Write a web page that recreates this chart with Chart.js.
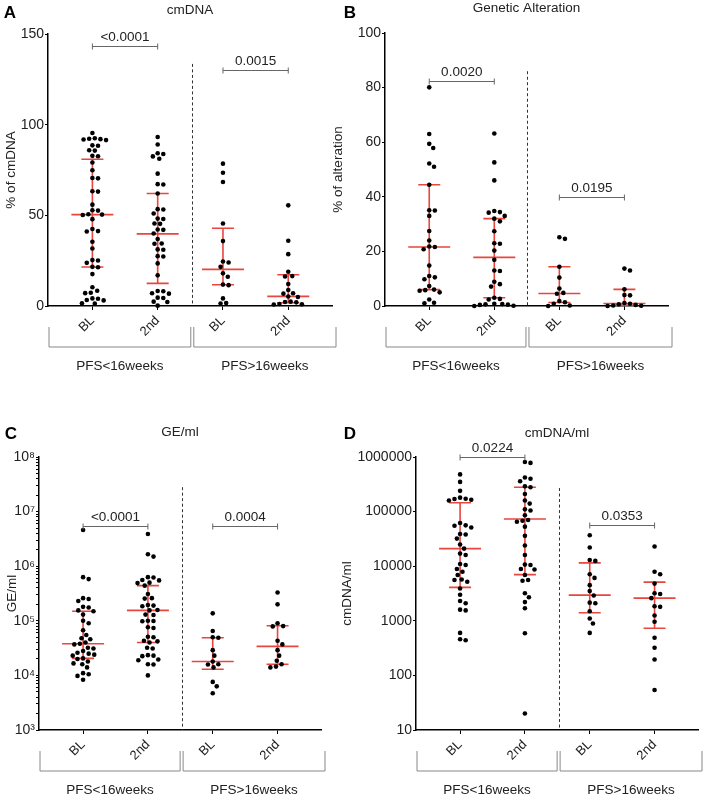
<!DOCTYPE html>
<html>
<head>
<meta charset="utf-8">
<script src="https://cdn.jsdelivr.net/npm/chart.js@4/dist/chart.umd.min.js"></script>
<style>
html, body { margin: 0; padding: 0; background: #fff; }
#wrap { position: relative; width: 706px; height: 797px; overflow: hidden; }
canvas { position: absolute; }
</style>
</head>
<body>
<div id="wrap">
  <canvas id="panelA"></canvas>
  <canvas id="panelB"></canvas>
  <canvas id="panelC"></canvas>
  <canvas id="panelD"></canvas>
</div>
<script>
// categories
const groups = ['BL', '2nd', 'BL', '2nd'];
const cohorts = ['PFS<16weeks', 'PFS>16weeks'];

// A - cmDNA (%)
const cmdnaPct = [
    [95.4, 92.5, 92.2, 92.0, 91.8, 91.5, 88.6, 88.4, 85.9, 85.7, 82.8, 82.6, 79.1, 74.9, 70.6, 70.4, 63.3, 63.1, 55.9, 52.8, 52.6, 50.6, 50.4, 50.2, 47.9, 42.5, 41.3, 41.1, 35.4, 31.7, 25.3, 25.1, 23.8, 21.6, 21.4, 17.6, 10.3, 8.4, 7.3, 7.1, 4.2, 4.0, 3.3, 3.1, 1.5, 1.3],
    [93.2, 89.1, 84.2, 83.8, 82.5, 81.2, 73.0, 67.2, 67.0, 62.0, 53.4, 53.2, 51.0, 48.2, 48.0, 45.5, 45.3, 42.2, 42.0, 40.0, 36.9, 34.5, 34.3, 31.2, 31.0, 27.5, 27.3, 23.5, 16.9, 8.3, 8.1, 7.0, 6.8, 4.6, 4.4, 2.4, 2.2, 0.2],
    [78.5, 73.5, 68.4, 45.5, 35.8, 24.5, 24.0, 21.6, 18.0, 16.1, 11.8, 11.5, 4.2, 1.6, 1.4],
    [55.5, 36.0, 28.6, 18.9, 16.5, 16.3, 12.1, 8.8, 7.0, 6.8, 5.2, 5.0, 2.4, 2.2, 2.0, 1.1, 0.9, 0.8],
];
const cmdnaPctMedian = [50.4, 39.8, 20.2, 5.3];
const cmdnaPctQ1 = [21.5, 12.5, 11.7, 1.8];
const cmdnaPctQ3 = [80.9, 62.0, 42.9, 17.2];
const cmdnaPctP = ['<0.0001', '0.0015'];

// B - genetic alteration (%)
const alteration = [
    [80.1, 63.0, 59.4, 57.9, 52.2, 51.0, 44.4, 35.1, 35.0, 33.0, 27.5, 24.0, 21.8, 21.6, 20.8, 14.8, 11.0, 10.5, 9.8, 7.3, 6.0, 5.8, 5.6, 5.0, 2.4, 1.2, 1.0],
    [63.2, 52.6, 46.0, 34.8, 34.4, 34.2, 33.0, 32.0, 31.0, 27.4, 23.0, 22.8, 20.3, 16.9, 13.0, 12.8, 8.9, 8.0, 7.1, 3.0, 2.6, 2.4, 0.8, 0.7, 0.6, 0.5, 0.4, 0.1, 0.0],
    [25.2, 24.6, 14.4, 10.4, 6.4, 4.8, 4.5, 1.8, 1.4, 0.8, 0.2, 0.0],
    [13.7, 13.0, 6.1, 4.0, 3.9, 1.1, 0.8, 0.6, 0.4, 0.2, 0.1, 0.0],
];
const alterationMedian = [21.6, 17.8, 4.6, 0.9];
const alterationQ1 = [6.0, 3.0, 1.3, 0.3];
const alterationQ3 = [44.4, 32.0, 14.4, 6.1];
const alterationP = ['0.0020', '0.0195'];

// C - GE/ml
const geMl = [
    [4.6e6, 6.3e5, 5.8e5, 2.6e5, 2.5e5, 2.3e5, 1.8e5, 1.75e5, 1.55e5, 1.5e5, 1.3e5, 1.0e5, 9.0e4, 6.7e4, 5.5e4, 4.8e4, 4.6e4, 4.0e4, 3.8e4, 3.7e4, 3.2e4, 3.1e4, 2.8e4, 2.6e4, 2.5e4, 2.4e4, 2.3e4, 2.05e4, 2.0e4, 1.8e4, 1.66e4, 1.6e4, 1.4e4, 1.1e4, 1.05e4, 9.8e3, 8.3e3],
    [3.9e6, 1.66e6, 1.5e6, 6.3e5, 6.2e5, 5.6e5, 5.5e5, 5.0e5, 4.9e5, 4.4e5, 3.1e5, 2.6e5, 2.55e5, 1.95e5, 1.9e5, 1.85e5, 1.58e5, 1.55e5, 1.3e5, 1.28e5, 1.0e5, 9.9e4, 9.8e4, 7.6e4, 7.4e4, 5.1e4, 5.0e4, 4.3e4, 4.2e4, 4.0e4, 3.2e4, 3.1e4, 2.35e4, 2.3e4, 2.25e4, 1.95e4, 1.9e4, 1.6e4, 1.58e4, 1.0e4],
    [1.37e5, 6.5e4, 5.0e4, 4.9e4, 2.9e4, 2.3e4, 1.8e4, 1.6e4, 1.58e4, 1.4e4, 7.6e3, 6.3e3, 4.7e3],
    [3.3e5, 2.0e5, 9.0e4, 8.0e4, 7.9e4, 4.3e4, 3.7e4, 2.9e4, 2.3e4, 1.85e4, 1.6e4, 1.45e4, 1.4e4],
];
const geMlMedian = [3.8e4, 1.55e5, 1.8e4, 3.4e4];
const geMlQ1 = [2.05e4, 4.0e4, 1.3e4, 1.6e4];
const geMlQ3 = [1.5e5, 4.4e5, 4.9e4, 8.1e4];
const geMlP = ['<0.0001', '0.0004'];

// D - cmDNA/ml
const cmdnaMl = [
    [4.8e5, 3.5e5, 2.4e5, 1.8e5, 1.72e5, 1.7e5, 1.65e5, 1.6e5, 6.2e4, 5.6e4, 5.5e4, 5.1e4, 3.9e4, 3.8e4, 3.2e4, 2.5e4, 2.1e4, 1.7e4, 1.6e4, 1.1e4, 1.05e4, 8.9e3, 7.9e3, 6.9e3, 5.7e3, 5.6e3, 5.2e3, 3.9e3, 3.0e3, 2.3e3, 2.1e3, 1.6e3, 1.55e3, 600, 460, 440],
    [8.1e5, 7.8e5, 4.2e5, 4.0e5, 3.6e5, 2.9e5, 2.8e5, 2.1e5, 1.6e5, 1.4e5, 1.1e5, 1.05e5, 8.6e4, 7.0e4, 6.8e4, 6.5e4, 5.3e4, 3.6e4, 2.4e4, 1.6e4, 1.07e4, 1.05e4, 8.9e3, 8.7e3, 6.9e3, 5.6e3, 5.4e3, 3.2e3, 2.7e3, 2.2e3, 1.7e3, 590, 20],
    [3.7e4, 2.2e4, 1.3e4, 1.25e4, 7.1e3, 6.1e3, 4.5e3, 3.5e3, 2.9e3, 2.15e3, 2.1e3, 1.5e3, 1.1e3, 890, 600],
    [2.3e4, 7.9e3, 7.1e3, 4.8e3, 3.2e3, 3.1e3, 2.6e3, 1.85e3, 1.8e3, 1.25e3, 960, 490, 320, 195, 54],
];
const cmdnaMlMedian = [2.1e4, 7.3e4, 2.95e3, 2.6e3];
const cmdnaMlQ1 = [4.1e3, 7.0e3, 1.4e3, 730];
const cmdnaMlQ3 = [1.45e5, 2.8e5, 1.15e4, 5.1e3];
const cmdnaMlP = ['0.0224', '0.0353'];

Chart.defaults.font.family = '"Liberation Sans", Arial, sans-serif';
Chart.defaults.color = '#222';

const FONT = '"Liberation Sans", Arial, sans-serif';
const SUP = '⁰¹²³⁴⁵⁶⁷⁸⁹';

// simple beeswarm: pixel offsets so dots do not overlap
function swarm(values, toPx) {
    const d = 5.6;
    const placed = [];
    return values.map((v) => {
        const py = toPx(v);
        let best = 0;
        for (let k = 0; k < 120; k++) {
            const off = (k % 2 ? 1 : -1) * Math.ceil(k / 2) * 0.8;
            if (placed.every((p) => (p.x - off) ** 2 + (p.y - py) ** 2 >= d * d)) {
                best = off;
                break;
            }
        }
        placed.push({ x: best, y: py });
        return best;
    });
}

function makeDecor(p) {
    return {
        id: 'decor',
        beforeDatasetsDraw(chart) {
            const { ctx, chartArea: a, scales: { x, y } } = chart;
            ctx.save();
            // dashed divider between cohorts
            const dx = Math.round(x.getPixelForValue(p.divX)) + 0.5;
            ctx.strokeStyle = '#333';
            ctx.lineWidth = 1;
            ctx.setLineDash([3, 2.5]);
            ctx.beginPath();
            ctx.moveTo(dx, y.getPixelForValue(p.divTop));
            ctx.lineTo(dx, a.bottom);
            ctx.stroke();
            ctx.setLineDash([]);
            // median with interquartile range
            ctx.strokeStyle = '#e8463f';
            ctx.lineWidth = 1.6;
            p.median.forEach((m, i) => {
                const cx = x.getPixelForValue(i + 1);
                const ym = y.getPixelForValue(m);
                const y1 = y.getPixelForValue(p.q1[i]);
                const y3 = y.getPixelForValue(p.q3[i]);
                ctx.beginPath();
                ctx.moveTo(cx - 21, ym); ctx.lineTo(cx + 21, ym);
                ctx.moveTo(cx - 11, y1); ctx.lineTo(cx + 11, y1);
                ctx.moveTo(cx - 11, y3); ctx.lineTo(cx + 11, y3);
                ctx.moveTo(cx, y1); ctx.lineTo(cx, y3);
                ctx.stroke();
            });
            ctx.restore();
        },
        afterDraw(chart) {
            const { ctx, chartArea: a, scales: { x, y } } = chart;
            ctx.save();
            // p-value brackets
            ctx.strokeStyle = '#666';
            ctx.lineWidth = 1;
            ctx.fillStyle = '#222';
            ctx.font = '13.5px ' + FONT;
            ctx.textAlign = 'center';
            ctx.textBaseline = 'bottom';
            p.pvals.forEach((txt, i) => {
                const x1 = x.getPixelForValue(i * 2 + 1);
                const x2 = x.getPixelForValue(i * 2 + 2);
                const yy = Math.round(y.getPixelForValue(p.sigAt[i])) + 0.5;
                ctx.beginPath();
                ctx.moveTo(x1, yy); ctx.lineTo(x2, yy);
                ctx.moveTo(x1, yy - 3); ctx.lineTo(x1, yy + 3);
                ctx.moveTo(x2, yy - 3); ctx.lineTo(x2, yy + 3);
                ctx.stroke();
                ctx.fillText(txt, (x1 + x2) / 2, yy - 2);
            });
            // cohort brackets under the axis
            const dx = x.getPixelForValue(p.divX);
            const spans = [[a.left + 1, dx - 1.5], [dx + 1.5, a.right + 4]];
            const top = a.bottom + 21, bot = a.bottom + 41;
            ctx.strokeStyle = '#888';
            ctx.textBaseline = 'middle';
            spans.forEach(([l, r], i) => {
                ctx.beginPath();
                ctx.moveTo(l, top); ctx.lineTo(l, bot); ctx.lineTo(r, bot); ctx.lineTo(r, top);
                ctx.stroke();
                ctx.fillText(cohorts[i], (l + r) / 2, a.bottom + 60);
            });
            // title and panel letter
            ctx.fillText(p.title, (a.left + a.right) / 2, p.titleY);
            ctx.font = 'bold 17px ' + FONT;
            ctx.fillStyle = '#000';
            ctx.fillText(p.letter, p.letterX, p.letterY);
            ctx.restore();
        },
    };
}

function makePanel(p) {
    const canvas = document.getElementById(p.id);
    canvas.width = p.box[2];
    canvas.height = p.box[3];
    canvas.style.left = p.box[0] + 'px';
    canvas.style.top = p.box[1] + 'px';

    const datasets = p.values.map((vals, g) => {
        const offs = swarm(vals, p.toPx);
        return {
            data: vals.map((v, i) => ({ x: g + 1 + offs[i] / 65, y: v })),
            pointRadius: 2.3,
            backgroundColor: '#000',
            borderWidth: 0,
            clip: false,
        };
    });

    const yScale = {
        type: p.log ? 'logarithmic' : 'linear',
        min: p.yMin,
        max: p.yMax,
        ticks: {
            font: { size: p.tickSize },
            color: '#222',
            padding: 1,
            autoSkip: false,
            callback: p.tickLabel,
        },
        grid: { drawOnChartArea: false, tickLength: 3, color: '#000' },
        border: { color: '#000', width: 1.5 },
        title: {
            display: true,
            text: p.yTitle,
            font: { size: 13.5 },
            color: '#222',
            padding: { top: p.yTitlePad, bottom: 0 },
        },
        afterFit: (s) => { s.width = p.yWidth; },
    };
    if (p.yStep) yScale.ticks.stepSize = p.yStep;
    if (p.yTicks) yScale.afterBuildTicks = (s) => { s.ticks = p.yTicks.map((v) => ({ value: v })); };

    new Chart(canvas, {
        type: 'scatter',
        data: { datasets },
        options: {
            responsive: false,
            animation: false,
            events: [],
            layout: { padding: p.pad },
            plugins: { legend: { display: false }, tooltip: { enabled: false } },
            scales: {
                x: {
                    type: 'linear',
                    min: 0.32,
                    max: 4.67,
                    afterBuildTicks: (s) => { s.ticks = [1, 2, 3, 4].map((v) => ({ value: v })); },
                    ticks: {
                        callback: (v, i) => groups[i],
                        minRotation: 45,
                        maxRotation: 45,
                        font: { size: 13 },
                        color: '#222',
                        autoSkip: false,
                        padding: 3,
                    },
                    grid: { drawOnChartArea: false, tickLength: 4, color: '#000' },
                    border: { color: '#000', width: 1.5 },
                    afterFit: (s) => { s.height = 30; },
                },
                y: yScale,
            },
        },
        plugins: [makeDecor(p)],
    });
}

const minorLogTicks = [];
for (let e = 3; e < 8; e++) for (let k = 1; k < 10; k++) minorLogTicks.push(k * 10 ** e);
minorLogTicks.push(1e8);
const decadeTicks = [10, 100, 1000, 10000, 100000, 1000000];

function powLabel(v) {
    const e = Math.round(Math.log10(v));
    return Math.abs(v - 10 ** e) < 1e-6 * v ? '10' + SUP[e] : '';
}

makePanel({
    id: 'panelA', box: [0, 0, 353, 397], pad: { left: 0, top: 34, right: 21, bottom: 61 },
    yWidth: 48, yTitlePad: 3, yTitle: '% of cmDNA', title: 'cmDNA', titleY: 10,
    letter: 'A', letterX: 10, letterY: 13,
    yMin: 0, yMax: 150, yStep: 50, tickSize: 14,
    toPx: (v) => v * 272 / 150,
    values: cmdnaPct, median: cmdnaPctMedian, q1: cmdnaPctQ1, q3: cmdnaPctQ3,
    pvals: cmdnaPctP, sigAt: [143.4, 130.1], divX: 2.53, divTop: 133.5,
});

makePanel({
    id: 'panelB', box: [325, 0, 381, 397], pad: { left: 0, top: 33, right: 38, bottom: 61 },
    yWidth: 60, yTitlePad: 5, yTitle: '% of alteration', title: 'Genetic Alteration', titleY: 8,
    letter: 'B', letterX: 25, letterY: 13,
    yMin: 0, yMax: 100, yStep: 20, tickSize: 14,
    toPx: (v) => v * 273 / 100,
    values: alteration, median: alterationMedian, q1: alterationQ1, q3: alterationQ3,
    pvals: alterationP, sigAt: [82.4, 39.9], divX: 2.51, divTop: 86,
});

makePanel({
    id: 'panelC', box: [0, 397, 353, 400], pad: { left: 0, top: 60, right: 32, bottom: 37 },
    yWidth: 39, yTitlePad: 4, yTitle: 'GE/ml', title: 'GE/ml', titleY: 35,
    letter: 'C', letterX: 11, letterY: 37,
    log: true, yMin: 1e3, yMax: 1e8, yTicks: minorLogTicks, tickLabel: powLabel, tickSize: 14,
    toPx: (v) => Math.log10(v) * 54.6,
    values: geMl, median: geMlMedian, q1: geMlQ1, q3: geMlQ3,
    pvals: geMlP, sigAt: [5.5e6, 5.5e6], divX: 2.52, divTop: 2.8e7,
});

makePanel({
    id: 'panelD', box: [325, 397, 381, 400], pad: { left: 0, top: 60, right: 8, bottom: 37 },
    yWidth: 91, yTitlePad: 14, yTitle: 'cmDNA/ml', title: 'cmDNA/ml', titleY: 36,
    letter: 'D', letterX: 25, letterY: 37,
    log: true, yMin: 10, yMax: 1e6, yTicks: decadeTicks, tickLabel: (v) => String(Math.round(v)), tickSize: 14,
    toPx: (v) => Math.log10(v) * 54.6,
    values: cmdnaMl, median: cmdnaMlMedian, q1: cmdnaMlQ1, q3: cmdnaMlQ3,
    pvals: cmdnaMlP, sigAt: [1e6, 5.6e4], divX: 2.52, divTop: 2.7e5,
});
</script>
</body>
</html>
